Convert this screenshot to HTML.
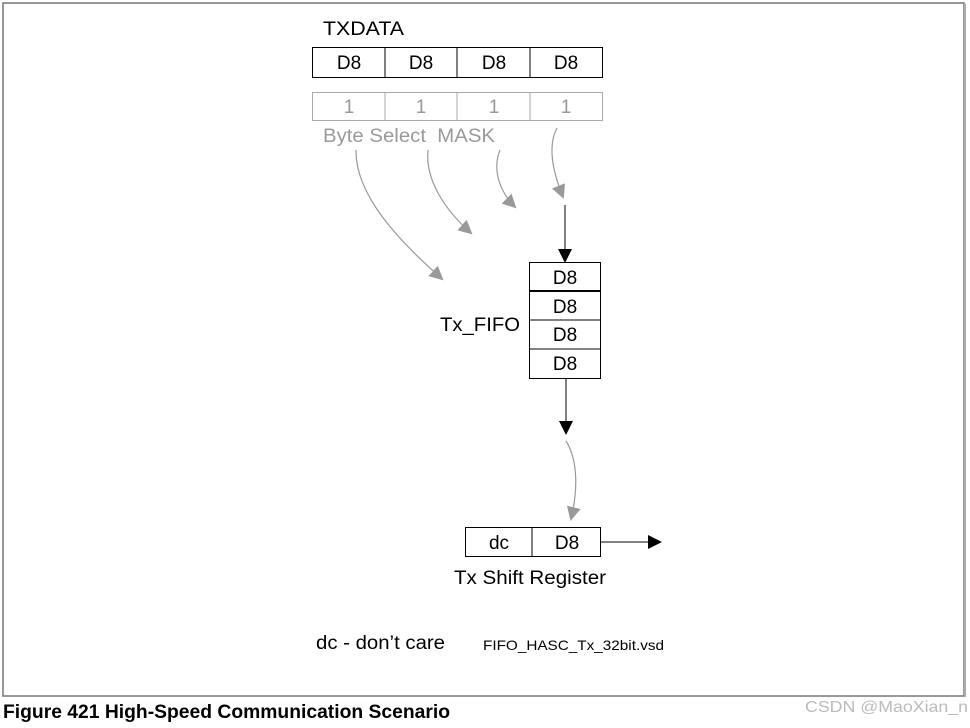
<!DOCTYPE html>
<html><head><style>
body{margin:0;background:#fff;width:970px;height:723px;overflow:hidden;font-family:"Liberation Sans",sans-serif}
</style></head><body>
<svg width="970" height="723" xmlns="http://www.w3.org/2000/svg" font-family="Liberation Sans, sans-serif">
<defs>
<marker id="ag" markerWidth="14" markerHeight="14" refX="12" refY="7" orient="auto" markerUnits="userSpaceOnUse"><path d="M0,0 L14,7 L0,14 z" fill="#999"/></marker>
<marker id="ak" markerWidth="14" markerHeight="14" refX="13" refY="7" orient="auto" markerUnits="userSpaceOnUse"><path d="M0,0 L14,7 L0,14 z" fill="#000"/></marker>
</defs>
<rect x="3" y="3" width="961" height="693" fill="none" stroke="#777" stroke-width="1.5"/>
<line x1="965" y1="4" x2="965" y2="697" stroke="#aaa" stroke-width="2"/>
<text x="323" y="35" font-size="19" textLength="81" lengthAdjust="spacingAndGlyphs">TXDATA</text>
<rect x="312.5" y="47.5" width="290" height="30" fill="none" stroke="#000"/>
<g stroke="#000"><line x1="385" y1="47" x2="385" y2="77"/><line x1="457" y1="47" x2="457" y2="77"/><line x1="530" y1="47" x2="530" y2="77"/></g>
<g font-size="19" text-anchor="middle"><text x="349" y="69">D8</text><text x="421" y="69">D8</text><text x="494" y="69">D8</text><text x="566" y="69">D8</text></g>
<rect x="312.5" y="92.5" width="290" height="28" fill="none" stroke="#aaa"/>
<g stroke="#aaa"><line x1="385" y1="92" x2="385" y2="120"/><line x1="457" y1="92" x2="457" y2="120"/><line x1="530" y1="92" x2="530" y2="120"/></g>
<g font-size="19" text-anchor="middle" fill="#999"><text x="349" y="113">1</text><text x="421" y="113">1</text><text x="494" y="113">1</text><text x="566" y="113">1</text></g>
<text x="323" y="142" font-size="19" fill="#999" textLength="172" lengthAdjust="spacingAndGlyphs" xml:space="preserve">Byte Select  MASK</text>
<g fill="none" stroke="#999" stroke-width="1.2">
<path d="M356,150 C355,200 410,250 442,279" marker-end="url(#ag)"/>
<path d="M428,150 C425,180 445,210 471,233" marker-end="url(#ag)"/>
<path d="M500,150 C492,170 500,192 515,207" marker-end="url(#ag)"/>
<path d="M557,128 C548,145 552,170 563,197" marker-end="url(#ag)"/>
<path d="M566,441 C578,460 578,490 571,519" marker-end="url(#ag)"/>
</g>
<line x1="565" y1="205" x2="565" y2="262" stroke="#000" marker-end="url(#ak)"/>
<rect x="529.5" y="262.5" width="71" height="116" fill="none" stroke="#000"/>
<g stroke="#000"><line x1="529" y1="291" x2="601" y2="291" stroke-width="2"/><line x1="529" y1="320" x2="601" y2="320"/><line x1="529" y1="349" x2="601" y2="349"/></g>
<g font-size="19" text-anchor="middle"><text x="565" y="284">D8</text><text x="565" y="313">D8</text><text x="565" y="341">D8</text><text x="565" y="370">D8</text></g>
<text x="440" y="331" font-size="19" textLength="80" lengthAdjust="spacingAndGlyphs">Tx_FIFO</text>
<line x1="566" y1="378" x2="566" y2="434" stroke="#000" marker-end="url(#ak)"/>
<rect x="465.5" y="527.5" width="135" height="29" fill="none" stroke="#000"/>
<line x1="532" y1="527" x2="532" y2="556" stroke="#000"/>
<g font-size="19" text-anchor="middle"><text x="499" y="549">dc</text><text x="567" y="549">D8</text></g>
<line x1="601" y1="542" x2="661" y2="542" stroke="#000" marker-end="url(#ak)"/>
<text x="454" y="584" font-size="19" textLength="152" lengthAdjust="spacingAndGlyphs">Tx Shift Register</text>
<text x="316" y="649" font-size="19" textLength="129" lengthAdjust="spacingAndGlyphs">dc - don’t care</text>
<text x="483" y="650" font-size="14" textLength="181" lengthAdjust="spacingAndGlyphs">FIFO_HASC_Tx_32bit.vsd</text>
<text x="3" y="718" font-size="19" font-weight="bold" textLength="447" lengthAdjust="spacingAndGlyphs">Figure 421   High-Speed Communication Scenario</text>
<text x="968" y="712" font-size="16" fill="#bbb" text-anchor="end" textLength="163" lengthAdjust="spacingAndGlyphs">CSDN @MaoXian_n</text>
</svg>
</body></html>
